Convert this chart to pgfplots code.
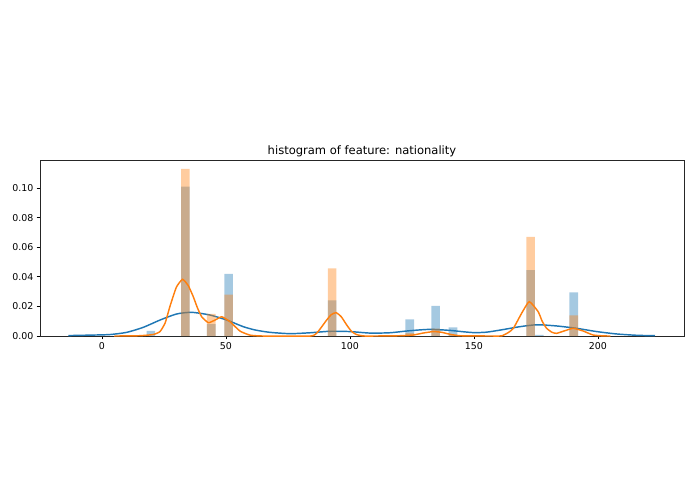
\documentclass[border=0pt]{standalone}
\usepackage{fontspec}
\setmainfont{DejaVu Sans}
\usepackage{pgfplots}
\pgfplotsset{compat=1.18}

\definecolor{mplblue}{RGB}{31,119,180}
\definecolor{mplorange}{RGB}{255,127,14}

\begin{document}
\begin{tikzpicture}
% page is 695x494 px at 0.72pt per px
\path[use as bounding box] (0,0) rectangle (500.4pt,355.7pt);
\begin{axis}[
    at={(28.8pt,113.76pt)}, anchor=south west,
    scale only axis,
    width=463.68pt, height=126.72pt,
    xmin=-25, xmax=234.7,
    ymin=0, ymax=0.1189,
    xtick={0,50,100,150,200},
    ytick={0,0.02,0.04,0.06,0.08,0.10},
    yticklabel style={/pgf/number format/.cd, fixed, fixed zerofill, precision=2},
    /pgf/number format/assume math mode=true,
    scaled y ticks=false,
    tick align=outside,
    major tick length=2.5pt,
    xtick pos=bottom, ytick pos=left,
    tick style={black, line width=0.56pt},
    axis line style={black!85, line width=0.56pt},
    ticklabel style={font=\fontsize{6.8}{8}\selectfont, inner sep=2pt},
    title={histogram of feature: nationality},
    title style={font=\fontsize{8.3}{10}\selectfont, at={(0.5,1)}, anchor=base, yshift=-2.2pt},
    clip=true,
]
% blue histogram (density)
\addplot[ybar interval, fill=mplblue, fill opacity=0.4, draw=none] coordinates {
(17.98,0.0034) (21.46,0)
(31.9,0.101) (35.38,0)
(42.34,0.008) (45.82,0)
(49.3,0.042) (52.78,0)
(91.06,0.024) (94.54,0)
(122.38,0.0113) (125.86,0)
(132.82,0.0203) (136.3,0)
(139.78,0.0059) (143.26,0)
(171.1,0.0446) (174.58,0.0008) (178.06,0)
(188.5,0.0295) (191.98,0)
};
% blue kde
\addplot[mplblue, line width=1.05pt, smooth, tension=0.4] coordinates {
(-13.6,0.0003) (-5,0.0006) (3.2,0.001) (10,0.0025) (16.7,0.0059)
(23.4,0.0108) (30.1,0.0149) (36.2,0.016) (43.5,0.0142) (50.3,0.0108)
(57,0.0063) (62,0.0040) (67.7,0.0025) (75.8,0.0016) (83.9,0.0022)
(91.9,0.0032) (100,0.003) (108,0.002) (116,0.0022) (124.2,0.0036)
(132.3,0.0045) (140.3,0.0038) (145,0.003) (150,0.0023) (155,0.0026)
(160.5,0.004) (168.5,0.0063) (175.3,0.0076) (183.3,0.0068) (191.4,0.0052)
(199.5,0.003) (207.5,0.0014) (215.6,0.0005) (223,0.0002)
};
% orange histogram (density)
\addplot[ybar interval, fill=mplorange, fill opacity=0.4, draw=none] coordinates {
(31.9,0.113) (35.38,0)
(42.34,0.015) (45.82,0)
(49.3,0.028) (52.78,0)
(91.06,0.0457) (94.54,0)
(122.38,0.002) (125.86,0)
(132.82,0.005) (136.3,0)
(139.78,0.001) (143.26,0)
(171.1,0.067) (174.58,0)
(188.5,0.014) (191.98,0)
};
% orange kde
\addplot[mplorange, line width=1.05pt, smooth, tension=0.3] coordinates {
(5,0) (15,0.0002) (20.6,0.001) (23.4,0.003) (25.5,0.009) (27.4,0.02)
(30,0.033) (32.5,0.0383) (34.8,0.034) (36.8,0.0266) (38.5,0.019)
(40.2,0.013) (42.9,0.009) (45.6,0.0108) (48.3,0.013) (51.6,0.0097)
(55.6,0.0034) (59.7,0.0006) (65,0) (84,0) (86.6,0.002) (88.5,0.006)
(90.6,0.0108) (92.5,0.0145) (94.4,0.0158) (96.5,0.013) (98.7,0.0074)
(100.7,0.003) (102.7,0.001) (106,0) (120,0.0002) (125.5,0.0007)
(129.5,0.002) (133.6,0.003) (137,0.0025) (140.3,0.0012) (144.4,0.0002)
(160,0) (161.8,0.0005) (164,0.0025) (165.9,0.0052) (169.2,0.0153)
(172.3,0.0232) (175.9,0.0164) (177.5,0.010) (179.3,0.0052) (181.5,0.0025)
(183.3,0.0018) (186.7,0.0036) (190,0.0052) (194,0.0034) (198,0.0007)
(202,0.0001) (205,0)
};
\end{axis}
\end{tikzpicture}
\end{document}
